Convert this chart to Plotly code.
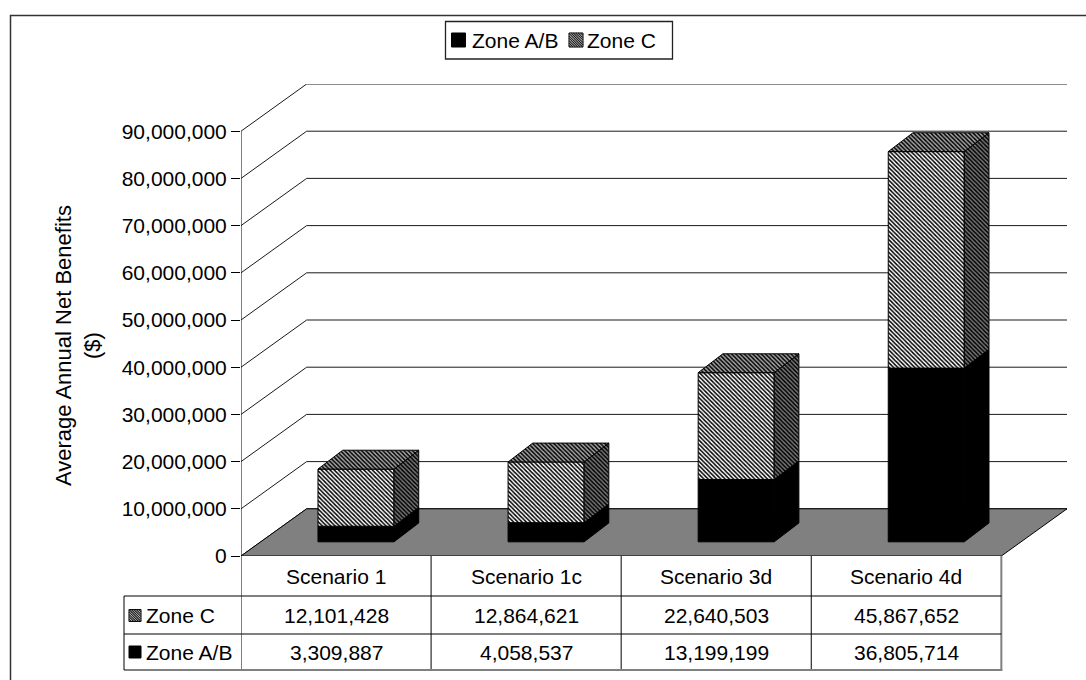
import plotly.graph_objects as go

# ---------------- data ----------------
categories = ["Scenario 1", "Scenario 1c", "Scenario 3d", "Scenario 4d"]
zone_ab = [3309887, 4058537, 13199199, 36805714]
zone_c = [12101428, 12864621, 22640503, 45867652]
y_ticks = [0, 10e6, 20e6, 30e6, 40e6, 50e6, 60e6, 70e6, 80e6, 90e6]
y_title = "Average Annual Net Benefits<br>($)"

# ---------------- geometry / style ----------------
W, H = 1086, 680
ML, MR, MT, MB = 241, 19, 84, 124
PW, PH = W - ML - MR, H - MT - MB

WALL_DX, WALL_DY = 0.3454, 10e6          # 3-D depth of the chart (x units, y units)
X_MAX = len(categories) + WALL_DX
Y_MAX = y_ticks[-1] + WALL_DY
BAR_W = 0.40
FRONT_DX, FRONT_DY = 0.105, 3.0e6        # bar front face offset into the depth
BAR_DX, BAR_DY = 0.13, 4.0e6             # bar depth

FONT = "Liberation Sans, Arial, sans-serif"
FS = 21
BLACK = "#000000"


def pxx(px):
    return (px - ML) / PW


def pxy(py):
    return (H - MB - py) / PH


def pat(bg, size=3):
    return dict(shape="\\", fgcolor=BLACK, bgcolor=bg, size=size, solidity=0.5, fillmode="replace")


PAT_FRONT = pat("#ffffff")
PAT_TOP = pat("#a8a8a8")
PAT_SIDE = pat("#787878")

fig = go.Figure()
shapes = []
annotations = []

# outer chart border
shapes.append(dict(type="rect", xref="paper", yref="paper", x0=pxx(10.5), y0=pxy(15.5),
                   x1=pxx(W + 30), y1=pxy(H + 30), line=dict(color="#333333", width=1.5),
                   fillcolor="rgba(0,0,0,0)", layer="below"))

# back / side wall gridlines
for v in y_ticks:
    path = (f"M 0,{v:.0f} L {WALL_DX},{v + WALL_DY:.0f} L {X_MAX},{v + WALL_DY:.0f}")
    shapes.append(dict(type="path", xref="x", yref="y", path=path,
                       line=dict(color="#1a1a1a", width=1), layer="below"))

# floor
n = len(categories)
floor = f"M 0,0 L {n},0 L {X_MAX},{WALL_DY:.0f} L {WALL_DX},{WALL_DY:.0f} Z"
shapes.append(dict(type="path", xref="x", yref="y", path=floor, fillcolor="#808080",
                   line=dict(color=BLACK, width=1), layer="below"))

# value axis line
shapes.append(dict(type="line", xref="x", yref="y", x0=0, x1=0, y0=0, y1=y_ticks[-1],
                   line=dict(color=BLACK, width=1), layer="below"))

# ---------------- bars ----------------
series = [("Zone A/B", zone_ab, "solid"), ("Zone C", zone_c, "hatch")]
cum = [0.0] * n
for name, vals, kind in series:
    xs = [i + 0.5 + FRONT_DX for i in range(n)]
    marker = dict(color=BLACK, line=dict(color=BLACK, width=1))
    if kind == "hatch":
        marker["pattern"] = PAT_FRONT
    fig.add_trace(go.Bar(x=xs, y=vals, base=[FRONT_DY + c for c in cum], width=BAR_W,
                         marker=marker, name=name, showlegend=False, hoverinfo="skip"))
    cum = [c + v for c, v in zip(cum, vals)]

# side and top faces
cum = [0.0] * n
for si, (name, vals, kind) in enumerate(series):
    for i in range(n):
        xl = i + 0.5 + FRONT_DX - BAR_W / 2
        xr = xl + BAR_W
        b0 = FRONT_DY + cum[i]
        b1 = b0 + vals[i]
        side = dict(x=[xr, xr + BAR_DX, xr + BAR_DX, xr, xr],
                    y=[b0, b0 + BAR_DY, b1 + BAR_DY, b1, b0])
        kw = dict(mode="lines", fill="toself", line=dict(color=BLACK, width=1),
                  showlegend=False, hoverinfo="skip")
        if kind == "hatch":
            fig.add_trace(go.Scatter(**side, fillcolor="#787878", fillpattern=PAT_SIDE, **kw))
        else:
            fig.add_trace(go.Scatter(**side, fillcolor=BLACK, **kw))
        if si == len(series) - 1:
            top = dict(x=[xl, xr, xr + BAR_DX, xl + BAR_DX, xl],
                       y=[b1, b1, b1 + BAR_DY, b1 + BAR_DY, b1])
            fig.add_trace(go.Scatter(**top, fillcolor="#a8a8a8", fillpattern=PAT_TOP, **kw))
    cum = [c + v for c, v in zip(cum, vals)]


# ---------------- key squares (legend & table) ----------------
def key_square(cx, cy, size, hatch):
    s = size / 2
    sq = f"M{-s},{-s} L{s},{-s} L{s},{s} L{-s},{s} Z"
    shapes.append(dict(type="path", xref="paper", yref="paper", xsizemode="pixel",
                       ysizemode="pixel", xanchor=pxx(cx), yanchor=pxy(cy), path=sq,
                       fillcolor="#ffffff" if hatch else BLACK,
                       line=dict(color=BLACK, width=1), layer="above"))
    if hatch:
        segs = []
        k = -size
        while k <= size:
            xa = max(-s, -s - k)
            xb = min(s, s - k)
            if xb > xa:
                segs.append(f"M{xa:.2f},{-(xa + k):.2f} L{xb:.2f},{-(xb + k):.2f}")
            k += 2.4
        shapes.append(dict(type="path", xref="paper", yref="paper", xsizemode="pixel",
                           ysizemode="pixel", xanchor=pxx(cx), yanchor=pxy(cy),
                           path=" ".join(segs), line=dict(color="#202020", width=1.2),
                           layer="above"))


def text(x, y, s, xref="paper", xanchor="center", size=FS, **kw):
    annotations.append(dict(x=x, y=y, xref=xref, yref="paper", text=s, showarrow=False,
                            xanchor=xanchor, yanchor="middle",
                            font=dict(family=FONT, size=size, color=BLACK), **kw))


# legend
shapes.append(dict(type="rect", xref="paper", yref="paper", x0=pxx(445.5), x1=pxx(672.5),
                   y0=pxy(21.5), y1=pxy(59), line=dict(color="#222222", width=1.3),
                   fillcolor="#ffffff", layer="above"))
key_square(458.5, 40, 14, False)
text(pxx(470), pxy(40.5), "Zone A/B", xanchor="left")
key_square(576, 40, 14, True)
text(pxx(585), pxy(40.5), "Zone C", xanchor="left")

# ---------------- data table ----------------
T_TOP, R1, R2, T_BOT = 556, 596, 634, 670
LBL_LEFT = 124
x_end = n / X_MAX  # paper x of the table right edge
for i in range(n + 1):
    col = BLACK if i < n else "#808080"
    shapes.append(dict(type="line", xref="x", yref="paper", x0=i, x1=i, y0=pxy(T_TOP),
                       y1=pxy(T_BOT), line=dict(color=col, width=1 if i < n else 2)))
for py in (R1, R2):
    shapes.append(dict(type="line", xref="paper", yref="paper", x0=pxx(LBL_LEFT), x1=x_end,
                       y0=pxy(py), y1=pxy(py), line=dict(color=BLACK, width=1)))
shapes.append(dict(type="line", xref="paper", yref="paper", x0=pxx(LBL_LEFT), x1=x_end + 1 / PW,
                   y0=pxy(T_BOT), y1=pxy(T_BOT), line=dict(color="#808080", width=2)))
shapes.append(dict(type="line", xref="paper", yref="paper", x0=pxx(LBL_LEFT), x1=pxx(LBL_LEFT),
                   y0=pxy(R1), y1=pxy(T_BOT), line=dict(color=BLACK, width=1)))

for i, c in enumerate(categories):
    text(i + 0.5, pxy(576), c, xref="x")
    text(i + 0.5, pxy(615.5), f"{zone_c[i]:,}", xref="x")
    text(i + 0.5, pxy(652), f"{zone_ab[i]:,}", xref="x")

key_square(135, 615.5, 12, True)
text(pxx(144), pxy(615.5), "Zone C", xanchor="left")
key_square(135, 652, 12, False)
text(pxx(144), pxy(652), "Zone A/B", xanchor="left")

# axis title
text(pxx(78), pxy(346), y_title, size=22, textangle=-90)

fig.update_layout(
    width=W, height=H,
    margin=dict(l=ML, r=MR, t=MT, b=MB, pad=0),
    paper_bgcolor="#ffffff", plot_bgcolor="#ffffff",
    barmode="overlay", showlegend=False,
    shapes=shapes, annotations=annotations,
    font=dict(family=FONT, size=FS, color=BLACK),
    xaxis=dict(range=[0, X_MAX], showgrid=False, zeroline=False, showline=False,
               showticklabels=False, ticks="", fixedrange=True),
    yaxis=dict(range=[0, Y_MAX], tickvals=y_ticks, tickformat=",d", showgrid=False,
               zeroline=False, showline=False, ticks="outside", ticklen=9,
               tickcolor=BLACK, tickwidth=1,
               tickfont=dict(family=FONT, size=FS, color=BLACK), fixedrange=True),
)

fig.write_html("out.html")
